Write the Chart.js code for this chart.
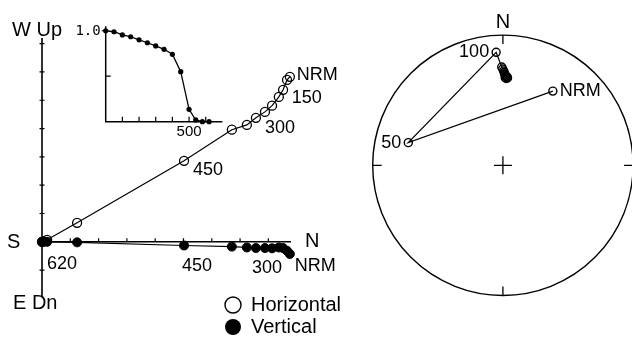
<!DOCTYPE html>
<html><head><meta charset="utf-8">
<script src="https://cdn.jsdelivr.net/npm/chart.js@4.4.1/dist/chart.umd.min.js"></script>
<style>
html,body{margin:0;padding:0;background:#fff;overflow:hidden;width:632px;height:340px;}
canvas{position:absolute;top:0;}
#zij{left:0;}
#inset{left:0;}
#stereo{left:340px;}
</style></head><body>
<canvas id="zij" width="340" height="340"></canvas>
<canvas id="inset" width="340" height="160"></canvas>
<canvas id="stereo" width="292" height="340"></canvas>
<script>
// ---- data ----
const steps = ['NRM','50','100','150','200','250','300','350','400','450','500','540','580','620'];
const northComp = [8.76, 8.66, 8.52, 8.37, 8.13, 7.88, 7.56, 7.24, 6.71, 5.02, 1.24, 0.18, 0.04, 0.00];
const westComp  = [5.83, 5.72, 5.37, 5.12, 4.81, 4.59, 4.38, 4.13, 3.96, 2.86, 0.67, 0.07, 0.02, 0.00];
const downComp  = [0.43, 0.32, 0.22, 0.20, 0.23, 0.22, 0.22, 0.20, 0.17, 0.13, 0.02, 0.00, 0.00, 0.00];
const demagTemps = [0, 50, 100, 150, 200, 250, 300, 350, 400, 450, 500, 540, 580, 620];
const demagIntensity = [1.0, 0.989, 0.954, 0.934, 0.900, 0.868, 0.833, 0.796, 0.741, 0.550, 0.136, 0.019, 0.0, 0.0];
const declinations = [34.5, 283.2, 356.5, 359.3, 359.9, 0.5, 0.8, 1.1, 1.5, 2.1, 2.8, 2.2, 3.1, 1.5];
const inclinations = [-32.8, -26.3, -16.0, -27.0, -28.4, -29.8, -30.9, -31.9, -32.6, -33.3, -33.9, -35.0, -34.6, -34.3];
const zijTicksX = [1, 2, 3, 4, 5, 6, 7, 8];
const zijTicksY = [-1, 1, 2, 3, 4, 5, 6, 7];
const insetTicksX = [100, 200, 300, 400, 500, 600];
const insetTicksY = [0.5, 1.0];
const insetLabelX = [500];
const insetLabelY = [1.0];
const zijLabelsH = {0:'NRM', 3:'150', 6:'300', 9:'450', 13:'620'};
const zijLabelsV = {0:'NRM', 6:'300', 9:'450'};
const stereoLabels = {0:'NRM', 1:'50', 2:'100'};

const FONT = '"Liberation Sans", Arial, sans-serif';
Chart.defaults.font.family = FONT;

// ---- Zijderveld diagram ----
const zijPlugin = {
  id:'zijAxes',
  beforeDatasetsDraw(chart){
    const {ctx, scales:{x, y}} = chart;
    const x0 = x.getPixelForValue(0), y0 = y.getPixelForValue(0);
    ctx.save();
    ctx.strokeStyle = '#000'; ctx.lineWidth = 1.6;
    ctx.beginPath();
    ctx.moveTo(x0, y0); ctx.lineTo(x.getPixelForValue(x.max), y0);
    ctx.moveTo(x0, y.getPixelForValue(y.max)); ctx.lineTo(x0, y.getPixelForValue(y.min));
    ctx.stroke();
    ctx.lineWidth = 1.2;
    ctx.beginPath();
    zijTicksX.forEach(v => { const p = x.getPixelForValue(v); ctx.moveTo(p, y0); ctx.lineTo(p, y0 - 3.5); });
    zijTicksY.forEach(v => { const p = y.getPixelForValue(v); ctx.moveTo(x0 - 2.5, p); ctx.lineTo(x0 + 2.5, p); });
    ctx.stroke();
    ctx.restore();
  },
  afterDraw(chart){
    const {ctx, scales:{x, y}} = chart;
    const x0 = x.getPixelForValue(0), y0 = y.getPixelForValue(0);
    ctx.save();
    ctx.fillStyle = '#000';
    ctx.textBaseline = 'middle'; ctx.textAlign = 'left';
    ctx.font = '20px ' + FONT;
    ctx.fillText('W Up', 12, 30);
    ctx.fillText('S', x0 - 35, y0 + 1);
    ctx.fillText('N', x.getPixelForValue(x.max) + 14, y0);
    ctx.fillText('E Dn', 13, 303);
    // legend
    ctx.lineWidth = 1.4; ctx.strokeStyle = '#000';
    ctx.beginPath(); ctx.arc(233, 305, 8, 0, Math.PI*2); ctx.stroke();
    ctx.beginPath(); ctx.arc(233, 327, 8, 0, Math.PI*2); ctx.fill();
    ctx.fillText('Horizontal', 251, 305);
    ctx.fillText('Vertical', 251, 327);
    // step labels
    ctx.font = '18px ' + FONT;
    const hOff = {0:[7,-2], 3:[13,1], 6:[9,10], 9:[9,9], 13:[5,22]};
    const vOff = {0:[5,12], 6:[-4,20], 9:[-2,21]};
    Object.keys(zijLabelsH).forEach(i => {
      const px = x.getPixelForValue(northComp[i]), py = y.getPixelForValue(westComp[i]);
      ctx.fillText(zijLabelsH[i], px + hOff[i][0], py + hOff[i][1]);
    });
    Object.keys(zijLabelsV).forEach(i => {
      const px = x.getPixelForValue(northComp[i]), py = y.getPixelForValue(-downComp[i]);
      ctx.fillText(zijLabelsV[i], px + vOff[i][0], py + vOff[i][1]);
    });
    ctx.restore();
  }
};

new Chart(document.getElementById('zij'), {
  type:'scatter',
  data:{datasets:[
    {label:'Horizontal', data: steps.map((s,i)=>({x:northComp[i], y:westComp[i]})),
     showLine:true, borderColor:'#000', borderWidth:1.2, pointRadius:4.5, pointBorderWidth:1.3,
     pointBackgroundColor:'rgba(0,0,0,0)', pointBorderColor:'#000', clip:false},
    {label:'Vertical', data: steps.map((s,i)=>({x:northComp[i], y:-downComp[i]})),
     showLine:true, borderColor:'#000', borderWidth:1.2, pointRadius:4.5, pointBorderWidth:1,
     pointBackgroundColor:'#000', pointBorderColor:'#000', clip:false}
  ]},
  options:{responsive:false, animation:false, events:[],
    layout:{padding:{left:42, right:49, top:38, bottom:43}},
    plugins:{legend:{display:false}, tooltip:{enabled:false}},
    scales:{x:{type:'linear', min:0, max:8.8, display:false}, y:{type:'linear', min:-1.95, max:7.2, display:false}}
  },
  plugins:[zijPlugin]
});

// ---- inset: intensity decay ----
const insetPlugin = {
  id:'insetAxes',
  beforeDatasetsDraw(chart){
    const {ctx, scales:{x, y}} = chart;
    const x0 = x.getPixelForValue(0), y0 = y.getPixelForValue(0);
    ctx.save();
    ctx.strokeStyle = '#000'; ctx.lineWidth = 1.5;
    ctx.beginPath();
    ctx.moveTo(x0, y.getPixelForValue(y.max)); ctx.lineTo(x0, y0); ctx.lineTo(x.getPixelForValue(x.max), y0);
    ctx.stroke();
    ctx.lineWidth = 1.2;
    ctx.beginPath();
    insetTicksX.forEach(v => { const p = x.getPixelForValue(v); ctx.moveTo(p, y0); ctx.lineTo(p, y0 - 5); });
    insetTicksY.forEach(v => { const p = y.getPixelForValue(v);
      if (v < 1) { ctx.moveTo(x0, p); ctx.lineTo(x0 + 5, p); } else { ctx.moveTo(x0 - 4, p); ctx.lineTo(x0, p); } });
    ctx.stroke();
    ctx.fillStyle = '#000';
    ctx.font = '14px "DejaVu Sans Mono", monospace';
    ctx.textAlign = 'right'; ctx.textBaseline = 'middle';
    insetLabelY.forEach(v => ctx.fillText(v.toFixed(1), x0 - 5, y.getPixelForValue(v) + 0.5));
    ctx.font = '15px ' + FONT; ctx.textAlign = 'center';
    insetLabelX.forEach(v => ctx.fillText(String(v), x.getPixelForValue(v), y0 + 10));
    ctx.restore();
  }
};
new Chart(document.getElementById('inset'), {
  type:'scatter',
  data:{datasets:[{label:'J/J0', data: demagTemps.map((t,i)=>({x:t, y:demagIntensity[i]})),
    showLine:true, borderColor:'#000', borderWidth:1.3, pointRadius:2.6, pointBorderWidth:0,
    pointBackgroundColor:'#000', clip:false}]},
  options:{responsive:false, animation:false, events:[],
    layout:{padding:{left:105.7, right:117.6, top:26.2, bottom:38.3}},
    plugins:{legend:{display:false}, tooltip:{enabled:false}},
    scales:{x:{type:'linear', min:0, max:700, display:false}, y:{type:'linear', min:0, max:1.05, display:false}}
  },
  plugins:[insetPlugin]
});

// ---- equal-area stereonet ----
const stereoPts = declinations.map((d,i) => {
  const r = Math.SQRT2 * Math.sin((90 - Math.abs(inclinations[i])) / 2 * Math.PI / 180);
  const a = d * Math.PI / 180;
  return {x: r * Math.sin(a), y: r * Math.cos(a)};
});
const stereoPlugin = {
  id:'stereoNet',
  beforeDatasetsDraw(chart){
    const {ctx, scales:{x, y}} = chart;
    const cx = x.getPixelForValue(0), cy = y.getPixelForValue(0);
    const R = x.getPixelForValue(1) - cx;
    ctx.save();
    ctx.strokeStyle = '#000'; ctx.lineWidth = 1.4;
    ctx.beginPath(); ctx.arc(cx, cy, R, 0, Math.PI*2); ctx.stroke();
    ctx.lineWidth = 1.3;
    ctx.beginPath();
    ctx.moveTo(cx, cy - R); ctx.lineTo(cx, cy - R + 9);
    ctx.moveTo(cx, cy + R); ctx.lineTo(cx, cy + R - 9);
    ctx.moveTo(cx - R, cy); ctx.lineTo(cx - R + 9, cy);
    ctx.moveTo(cx + R, cy); ctx.lineTo(cx + R - 9, cy);
    ctx.moveTo(cx - 9, cy); ctx.lineTo(cx + 9, cy);
    ctx.moveTo(cx, cy - 9); ctx.lineTo(cx, cy + 9);
    ctx.stroke();
    ctx.fillStyle = '#000';
    ctx.font = '20px ' + FONT; ctx.textAlign = 'center'; ctx.textBaseline = 'middle';
    ctx.fillText('N', cx, cy - R - 13);
    ctx.restore();
  },
  afterDraw(chart){
    const {ctx, scales:{x, y}} = chart;
    ctx.save();
    ctx.fillStyle = '#000'; ctx.font = '18px ' + FONT; ctx.textBaseline = 'middle';
    Object.keys(stereoLabels).forEach(i => {
      const px = x.getPixelForValue(stereoPts[i].x), py = y.getPixelForValue(stereoPts[i].y);
      if (stereoLabels[i] === 'NRM') { ctx.textAlign = 'left'; ctx.fillText(stereoLabels[i], px + 7, py); }
      else { ctx.textAlign = 'right'; ctx.fillText(stereoLabels[i], px - 7, py); }
    });
    ctx.restore();
  }
};
new Chart(document.getElementById('stereo'), {
  type:'scatter',
  data:{datasets:[{label:'Direction', data: stereoPts,
    showLine:true, borderColor:'#000', borderWidth:1.2, pointRadius:4, pointBorderWidth:1.4,
    pointBackgroundColor:'rgba(0,0,0,0)', pointBorderColor:'#000', clip:false}]},
  options:{responsive:false, animation:false, events:[],
    layout:{padding:{left:32.7, right:0, top:32.3, bottom:41.7}},
    plugins:{legend:{display:false}, tooltip:{enabled:false}},
    scales:{x:{type:'linear', min:-1, max:0.95, display:false}, y:{type:'linear', min:-1, max:1, display:false}}
  },
  plugins:[stereoPlugin]
});
</script>
</body></html>
